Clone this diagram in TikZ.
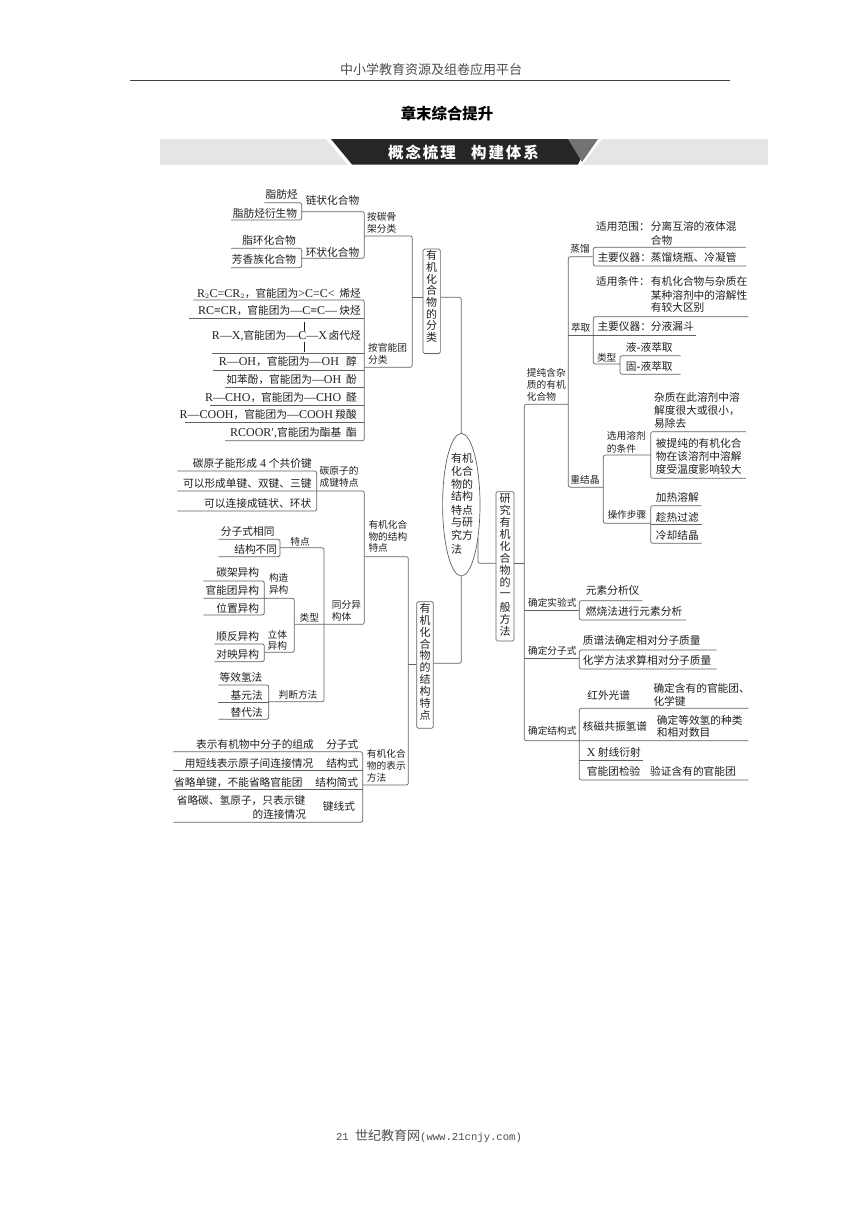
\documentclass[tikz,border=0pt]{standalone}
\usepackage{fontspec}
\setmainfont{Noto Sans CJK SC}
\newfontfamily\latf[Scale=1.12]{Liberation Serif}
\newfontfamily\monof{Liberation Mono}
\newcommand{\la}[1]{{\latf #1}}
\usetikzlibrary{positioning,shapes.geometric}
\definecolor{inkc}{gray}{0.12}
\definecolor{linec}{gray}{0.38}
\tikzset{
  txt/.style={inner sep=0pt,font=\fontsize{10.7}{12}\selectfont,text=inkc},
  lft/.style={txt,anchor=west},
  rgt/.style={txt,anchor=east},
  sm/.style={inner sep=0pt,anchor=west,font=\fontsize{9.7}{12}\selectfont,text=inkc},
  lbox/.style={draw=linec,line width=0.7pt,rounded corners=1.5pt,inner sep=0pt,text=inkc},
  rule/.style={draw=linec,line width=0.7pt,rounded corners=2pt},
}
% vertical caption inside a rounded box
\newcommand{\boxcaption}[6]{%
  \node[lbox,minimum width=#3,minimum height=#5] (#1) at (#2) {};
  \foreach \ch [count=\i from 0] in {#6}
    \node[txt,font=\fontsize{11}{12}\selectfont] at ([yshift=-#4*\i pt-#4*0.5 pt-1pt]#1.north) {\ch};
}
\begin{document}
\begin{tikzpicture}[x=1pt,y=-1pt]
\useasboundingbox (0,0) rectangle (860,1216);

% page head and foot
\node[txt,font=\fontsize{13}{14}\selectfont,text=black!70] (head) at (431,70) {中小学教育资源及组卷应用平台};
\draw[line width=1pt,color=black!75] (130,80) -- (730,80);
\node[txt,font=\fontsize{15.4}{16}\selectfont\bfseries,text=black] (title) at (447,114) {章末综合提升};
\node[txt,font=\fontsize{13}{14}\selectfont,text=black!70] (foot) at (429,1136) {\fontsize{10.6}{12}\selectfont\monof 21 \fontsize{13}{14}\selectfont\rmfamily 世纪教育网\fontsize{10.6}{12}\selectfont\monof (www.21cnjy.com)};

% banner
\fill[black!10] (160,139) rectangle (768,165);
\fill[white] (326,139) -- (602,139) -- (582,165) -- (348,165) -- cycle;
\fill[black!85] (331,139) -- (590,139) -- (578,164.5) -- (352,164.5) -- cycle;
\fill[black!55] (568,139) -- (598,139) -- (582,162) -- cycle;
\node[txt,font=\fontsize{15.5}{16}\selectfont\bfseries\addfontfeature{LetterSpace=12},text=white] (banda) at (422,153) {概念梳理};
\node[txt,font=\fontsize{15.5}{16}\selectfont\bfseries\addfontfeature{LetterSpace=12},text=white] (bandb) at (505,153) {构建体系};

% centre
\node[draw=linec,line width=0.7pt,ellipse,minimum width=37.4pt,minimum height=142.6pt,inner sep=0pt] (centre) at (461.3,504.7) {};
\foreach \a/\yy in {有机/458.3,化合/471,物的/484,结构/496.7,特点/510,与研/522.7,究方/535.7,法/549}
  \node[lft,font=\fontsize{11}{12}\selectfont] at (451,\yy) {\a};
\boxcaption{clsbox}{431.7,301.2}{17.3pt}{11.67}{104.4pt}{有,机,化,合,物,的,分,类}
\boxcaption{strbox}{425,665}{16.6pt}{11.85}{126.6pt}{有,机,化,合,物,的,结,构,特,点}
\boxcaption{metbox}{505,566.3}{18pt}{12.06}{149.4pt}{研,究,有,机,化,合,物,的,一,般,方,法}

% junctions of the main tree
\coordinate (clsup) at (461.3,297.3);
\coordinate (clsjoin) at (412.3,297.3);
\coordinate (strdown) at (461.3,663.3);
\coordinate (strjoin) at (408.3,664.3);
\coordinate (metfrom) at (478,538);
\coordinate (metturn) at (478,563.3);
\coordinate (mettrunk) at (524.3,563.3);
\draw[rule] (centre.north) -- (clsup) -- (clsbox.east |- clsup);
\draw[rule] (centre.south) -- (strdown) -- (strbox.east |- strdown);
\draw[rule] (metfrom) -- (metturn) -- (metbox.west |- metturn);

% classification branch
\coordinate (carbjoin) at (364.3,236);
\coordinate (funcjoin) at (364.3,367.3);
\coordinate (chainend) at (301.7,211.7);
\coordinate (ringend) at (301.7,258.3);
\draw[rule] (carbjoin) -- (carbjoin -| clsjoin) -- (funcjoin -| clsjoin) -- (funcjoin);
\draw[rule] (clsjoin) -- (clsbox.west |- clsjoin);
\draw[rule] (chainend) -- (chainend -| carbjoin) -- (ringend -| carbjoin) -- (ringend);
\draw[rule] (264.3,202.7) -- (301.7,202.7) -- (301.7,220) -- (231,220);
\draw[rule] (231,248.3) -- (301.7,248.3) -- (301.7,267.7) -- (231,267.7);
\node[txt] (fatty) at (281.7,194) {脂肪烃};
\node[txt] (fattyd) at (265,213) {脂肪烃衍生物};
\node[txt] (chain) at (332.5,200) {链状化合物};
\node[txt] (alicy) at (269,240.7) {脂环化合物};
\node[txt] (arom) at (264,259.3) {芳香族化合物};
\node[txt] (ring) at (332.5,252) {环状化合物};
\node[sm] (bycarb) at (367,216.7) {按碳骨};
\node[sm] (bycarbb) at (367,228.7) {架分类};
\node[sm] (byfunc) at (368,347.7) {按官能团};
\node[sm] (byfuncb) at (368,360) {分类};

% functional groups, each row with its rule
\draw[rule] (193.3,300) -- (364.3,300) -- (364.3,440.7) -- (225,440.7);
\foreach \xl/\yy in {189.3/318.3,212.3/353.3,213/370,225/387.3,210/405,185/422.7}
  \draw[rule] (\xl,\yy) -- (364.3,\yy);
\node[rgt] (alkene) at (361,293.3) {\la{R$_2$C=CR$_2$}，官能团为\la{>C=C<}\ \ 烯烃};
\node[rgt] (alkyne) at (361,311) {\la{RC≡CR}，官能团为\la{—C≡C—}\ 炔烃};
\node[rgt] (halide) at (361,335.7) {\la{R—X,}官能团为\la{—C—X}\,卤代烃};
\draw[draw=inkc,line width=0.6pt] (304.3,321.7) -- (304.3,330.7) (304.3,341.7) -- (304.3,351.7);
\node[rgt] (alcohol) at (357,361.7) {\la{R—OH}，官能团为\la{—OH}\ \ \ 醇};
\node[rgt] (phenol) at (357,379.3) {如苯酚，官能团为\la{—OH}\ \ 酚};
\node[rgt] (aldeh) at (357,397.3) {\la{R—CHO}，官能团为\la{—CHO}\ \ 醛};
\node[rgt] (acid) at (357,415) {\la{R—COOH}，官能团为\la{—COOH}\ 羧酸};
\node[rgt] (ester) at (357,433.3) {\la{RCOOR′,}官能团为酯基\ \ 酯};

% structure branch
\coordinate (featjoin) at (364.3,556.7);
\coordinate (repjoin) at (362.7,785);
\draw[rule] (featjoin) -- (featjoin -| strjoin) -- (repjoin -| strjoin) -- (repjoin);
\draw[rule] (strjoin) -- (strbox.west |- strjoin);
\draw[rule] (177.3,491) -- (364.3,491) -- (364.3,624.3) -- (294.3,624.3);
\draw[rule] (177.3,471) -- (316.7,471) -- (316.7,511) -- (177.3,511);
\node[txt] (bondfour) at (252.3,463.3) {碳原子能形成\la{ 4 }个共价键};
\node[txt] (bondkind) at (247.3,483.3) {可以形成单键、双键、三键};
\node[txt] (bondring) at (257.7,503.3) {可以连接成链状、环状};
\node[sm] (carbon) at (319.5,471) {碳原子的};
\node[sm] (carbonb) at (319.5,483.3) {成键特点};
\node[sm] (strfeat) at (368.3,525) {有机化合};
\node[sm] (strfeatb) at (368.3,536.7) {物的结构};
\node[sm] (strfeatc) at (368.3,548.3) {特点};

% isomers
\draw[rule] (218.3,539.3) -- (280,539.3) -- (280,556.7) -- (218.3,556.7);
\draw[rule] (280,547.7) -- (324,547.7) -- (324,701.7) -- (268.7,701.7);
\draw[rule] (203.3,581) -- (264.3,581) -- (264.3,615) -- (203.3,615);
\draw[rule] (203.3,598.3) -- (294.3,598.3) -- (294.3,652.3) -- (264.3,652.3);
\draw[rule] (214.3,644) -- (264.3,644) -- (264.3,661.7) -- (214.3,661.7);
\draw[rule] (218.3,685) -- (268.7,685) -- (268.7,719.3) -- (218.3,719.3);
\draw[rule] (218.3,702.3) -- (268.7,702.3);
\node[txt] (same) at (247.7,531.7) {分子式相同};
\node[txt] (diff) at (255.7,549.3) {结构不同};
\node[sm,anchor=center] (feat) at (300,541.7) {特点};
\node[txt] (skel) at (237.7,572.7) {碳架异构};
\node[txt] (funcis) at (232.3,590.3) {官能团异构};
\node[txt] (posis) at (237.7,608.3) {位置异构};
\node[sm,anchor=center] (cons) at (278.7,577.7) {构造};
\node[sm,anchor=center] (consb) at (278.7,590) {异构};
\node[sm,anchor=center] (kind) at (309.3,617.7) {类型};
\node[sm] (isom) at (331.7,605) {同分异};
\node[sm] (isomb) at (331.7,616.7) {构体};
\node[txt] (cistr) at (237.7,636.3) {顺反异构};
\node[txt] (enant) at (237.7,654.3) {对映异构};
\node[sm,anchor=center] (ster) at (277.3,634.3) {立体};
\node[sm,anchor=center] (sterb) at (277.3,646) {异构};
\node[txt] (eqh) at (241,677.3) {等效氢法};
\node[txt] (base) at (246.7,695) {基元法};
\node[txt] (subs) at (246.7,712.7) {替代法};
\node[sm,anchor=center] (judge) at (298,694.7) {判断方法};

% representation
\draw[rule] (173.3,751.7) -- (362.7,751.7) -- (362.7,822.3) -- (173.3,822.3);
\draw[rule] (173.3,770) -- (362.7,770);
\draw[rule] (173.3,789) -- (362.7,789);
\node[txt] (repa) at (255,744.3) {表示有机物中分子的组成};
\node[txt] (repb) at (342.3,744.3) {分子式};
\node[txt] (repc) at (249,763.3) {用短线表示原子间连接情况};
\node[txt] (repd) at (342.3,763.3) {结构式};
\node[txt] (repe) at (238.3,782.3) {省略单键，不能省略官能团};
\node[txt] (repf) at (336.7,782.3) {结构简式};
\node[txt] (repg) at (241,801) {省略碳、氢原子，只表示键};
\node[txt] (reph) at (279.3,814) {的连接情况};
\node[txt] (repi) at (339,806) {键线式};
\node[sm] (rep) at (366.7,753.3) {有机化合};
\node[sm] (repj) at (366.7,765.3) {物的表示};
\node[sm] (repk) at (366.7,777.3) {方法};

% method trunk
\coordinate (purjoin) at (568.3,404.3);
\coordinate (trunkend) at (748.3,740.7);
\coordinate (empjoin) at (579.3,610);
\coordinate (moljoin) at (579.3,658.3);
\draw[rule] (metbox.east |- mettrunk) -- (mettrunk);
\draw[rule] (purjoin) -- (purjoin -| mettrunk) -- (trunkend -| mettrunk) -- (trunkend);
\draw[rule] (empjoin -| mettrunk) -- (empjoin);
\draw[rule] (moljoin -| mettrunk) -- (moljoin);
\draw[rule] (592.7,256.7) -- (568.3,256.7) -- (568.3,487.3) -- (603.3,487.3);
\draw[rule] (568.3,335) -- (696,335);
\node[sm] (purify) at (526.7,372.7) {提纯含杂};
\node[sm] (purifyb) at (526.7,384.3) {质的有机};
\node[sm] (purifyc) at (526.7,396.7) {化合物};
\node[sm,anchor=center] (dist) at (580,249.3) {蒸馏};
\node[sm,anchor=center] (extr) at (580.7,327.7) {萃取};
\node[sm,anchor=center] (recr) at (585,480) {重结晶};

% distillation
\draw[rule] (746,247.3) -- (593.3,247.3) -- (593.3,266) -- (746,266);
\node[lft] (dista) at (596,226.7) {适用范围：};
\node[lft] (distb) at (650.7,226.7) {分离互溶的液体混};
\node[lft] (distc) at (650.7,240) {合物};
\node[lft] (distd) at (597.3,257.7) {主要仪器：};
\node[lft] (diste) at (650.7,257.7) {蒸馏烧瓶、冷凝管};

% extraction
\draw[rule] (748.3,316.7) -- (593.3,316.7) -- (593.3,364) -- (620,364);
\draw[rule] (680.7,355.7) -- (620,355.7) -- (620,374.3) -- (680.7,374.3);
\node[lft] (exta) at (596,281) {适用条件：};
\node[lft] (extb) at (650.7,281) {有机化合物与杂质在};
\node[lft] (extc) at (650.7,295) {某种溶剂中的溶解性};
\node[lft] (extd) at (650.7,307.7) {有较大区别};
\node[lft] (exte) at (597.3,326.7) {主要仪器：};
\node[lft] (extf) at (650.7,326.7) {分液漏斗};
\node[sm,anchor=center] (extg) at (606.7,357.7) {类型};
\node[lft] (exth) at (625.7,347.7) {液\la{-}液萃取};
\node[lft] (exti) at (625.7,366) {固\la{-}液萃取};

% recrystallisation
\draw[rule] (650.7,455) -- (603.3,455) -- (603.3,523.3) -- (650.7,523.3);
\draw[rule] (746,431.7) -- (650.7,431.7) -- (650.7,478.3) -- (746,478.3);
\draw[rule] (701.7,505.7) -- (650.7,505.7) -- (650.7,543.3) -- (701.7,543.3);
\draw[rule] (650.7,524.3) -- (701.7,524.3);
\node[lft] (reca) at (654,397.7) {杂质在此溶剂中溶};
\node[lft] (recb) at (654,410.7) {解度很大或很小，};
\node[lft] (recc) at (654,423.3) {易除去};
\node[sm] (recd) at (606.7,435.7) {选用溶剂};
\node[sm] (rece) at (606.7,448.3) {的条件};
\node[lft] (recf) at (655.7,443.3) {被提纯的有机化合};
\node[lft] (recg) at (655.7,456.7) {物在该溶剂中溶解};
\node[lft] (rech) at (655.7,469.3) {度受温度影响较大};
\node[sm] (reci) at (607.3,515) {操作步骤};
\node[lft] (recj) at (655.7,497.7) {加热溶解};
\node[lft] (reck) at (655.7,517.3) {趁热过滤};
\node[lft] (recl) at (655.7,535.7) {冷却结晶};

% experimental and molecular formula
\draw[rule] (642.3,600.7) -- (579.3,600.7) -- (579.3,620) -- (686,620);
\node[sm,anchor=center] (empf) at (552.3,602.3) {确定实验式};
\node[lft] (empa) at (585.7,590.7) {元素分析仪};
\node[lft] (empb) at (585.7,611) {燃烧法进行元素分析};
\draw[rule] (716.7,650) -- (579.3,650) -- (579.3,669) -- (716.7,669);
\node[sm,anchor=center] (molf) at (552.3,651) {确定分子式};
\node[lft] (mola) at (582.7,640) {质谱法确定相对分子质量};
\node[lft] (molb) at (582.7,660.7) {化学方法求算相对分子质量};

% structural formula
\draw[rule] (748.3,708.3) -- (579.3,708.3) -- (579.3,780) -- (748.3,780);
\draw[rule] (579.3,760) -- (643.3,760);
\node[sm,anchor=center] (strf) at (552.3,731) {确定结构式};
\node[txt] (stra) at (608.7,695.7) {红外光谱};
\node[lft] (strb) at (653.3,688.3) {确定含有的官能团、};
\node[lft] (strc) at (653.3,701) {化学键};
\node[txt] (strd) at (615,726) {核磁共振氢谱};
\node[lft] (stre) at (656.7,720) {确定等效氢的种类};
\node[lft] (strg) at (656.7,732.7) {和相对数目};
\node[lft] (strh) at (586.7,752.7) {\la{X} 射线衍射};
\node[lft] (stri) at (586.7,771.7) {官能团检验};
\node[lft] (strj) at (650,771.7) {验证含有的官能团};
\end{tikzpicture}
\end{document}
